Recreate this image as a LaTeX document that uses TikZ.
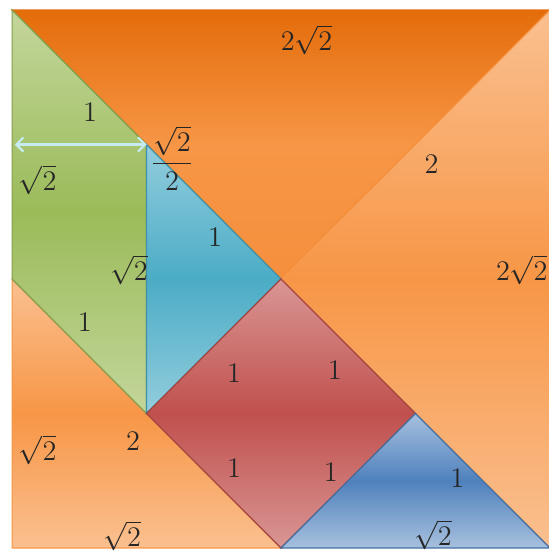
\documentclass[tikz,border=0pt]{standalone}
\usepackage{amsmath}
\usetikzlibrary{arrows.meta}
\definecolor{orangeDark}{HTML}{E46C0A}
\definecolor{orangeMid}{HTML}{F79646}
\definecolor{orangeLight}{HTML}{FAC090}
\definecolor{greenMid}{HTML}{9BBB59}
\definecolor{greenLight}{HTML}{C3D69B}
\definecolor{aquaMid}{HTML}{4BACC6}
\definecolor{aquaLight}{HTML}{93CDDD}
\definecolor{redMid}{HTML}{C0504D}
\definecolor{redLight}{HTML}{D99694}
\definecolor{blueMid}{HTML}{4F81BD}
\definecolor{blueLight}{HTML}{A7C0DE}
\definecolor{arrowCyan}{HTML}{C6ECF2}
\begin{document}
\begin{tikzpicture}[x=2cm, y=2cm, font=\large,
  piece/.style={line width=0.5pt},
  numtext/.style={text=black!85, inner sep=1pt}]
  \useasboundingbox (-0.09,-0.03) rectangle (3.99,4.075);
  \coordinate (TL) at (0,4);
  \coordinate (TR) at (4,4);
  \coordinate (BR) at (4,0);
  \coordinate (BL) at (0,0);
  \coordinate (O) at (2,2);
  \coordinate (P) at (1,3);
  \coordinate (Q) at (1,1);
  \coordinate (L) at (0,2);
  \coordinate (M) at (2,0);
  \coordinate (R) at (3,1);
  % 七巧板的七块
  \draw[piece, draw=orangeDark, top color=orangeDark,
    bottom color=orangeMid!85!orangeDark, middle color=orangeMid] (TL) -- (TR) -- (O) -- cycle;
  \draw[piece, draw=orangeMid, top color=orangeLight, bottom color=orangeLight,
    middle color=orangeMid] (TR) -- (BR) -- (O) -- cycle;
  \draw[piece, draw=orangeMid, top color=orangeLight, bottom color=orangeLight,
    middle color=orangeMid] (L) -- (M) -- (BL) -- cycle;
  \draw[piece, draw=greenMid!85!black, top color=greenLight, bottom color=greenLight,
    middle color=greenMid] (TL) -- (P) -- (Q) -- (L) -- cycle;
  \draw[piece, draw=aquaMid!85!black, top color=aquaLight, bottom color=aquaLight,
    middle color=aquaMid] (P) -- (O) -- (Q) -- cycle;
  \draw[piece, draw=redMid!85!black, top color=redLight, bottom color=redLight,
    middle color=redMid] (Q) -- (O) -- (R) -- (M) -- cycle;
  \draw[piece, draw=blueMid!85!black, top color=blueLight, bottom color=blueLight,
    middle color=blueMid] (M) -- (R) -- (BR) -- cycle;
  \coordinate (A0) at (0.02,3);
  \draw[arrowCyan, line width=0.9pt,
    {Straight Barb[length=3pt,width=6pt]}-{Straight Barb[length=3pt,width=6pt]}] (A0) -- (P);
  \node[numtext] (n1) at (2.19,3.78) {$2\sqrt{2}$};
  \node[numtext] (n2) at (0.58,3.24) {$1$};
  \node[numtext] (n3) at (1.19,2.90) {$\dfrac{\sqrt{2}}{2}$};
  \node[numtext] (n4) at (0.19,2.74) {$\sqrt{2}$};
  \node[numtext] (n5) at (3.12,2.85) {$2$};
  \node[numtext] (n6) at (1.51,2.31) {$1$};
  \node[numtext] (n7) at (0.87,2.07) {$\sqrt{2}$};
  \node[numtext] (n8) at (3.79,2.07) {$2\sqrt{2}$};
  \node[numtext] (n9) at (0.54,1.68) {$1$};
  \node[numtext] (n10) at (1.65,1.30) {$1$};
  \node[numtext] (n11) at (2.40,1.32) {$1$};
  \node[numtext] (n12) at (0.19,0.73) {$\sqrt{2}$};
  \node[numtext] (n13) at (0.90,0.79) {$2$};
  \node[numtext] (n14) at (1.65,0.59) {$1$};
  \node[numtext] (n15) at (2.37,0.56) {$1$};
  \node[numtext] (n16) at (3.31,0.52) {$1$};
  \node[numtext] (n17) at (0.82,0.09) {$\sqrt{2}$};
  \node[numtext] (n18) at (3.13,0.10) {$\sqrt{2}$};
\end{tikzpicture}
\end{document}
